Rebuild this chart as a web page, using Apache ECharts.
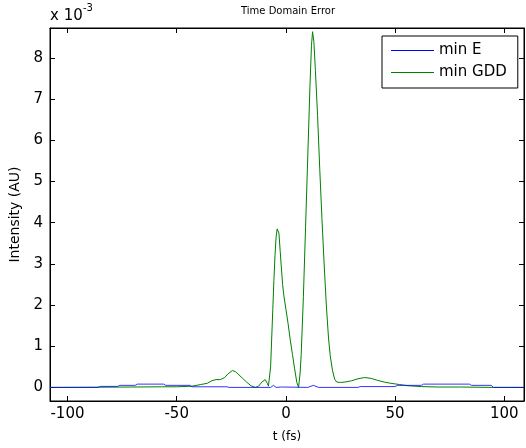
<!DOCTYPE html>
<html><head><meta charset="utf-8">
<script src="https://cdn.jsdelivr.net/npm/echarts@6/dist/echarts.min.js"></script>
<style>html,body{margin:0;padding:0;background:#fff}#c{width:526px;height:448px}</style>
</head><body><div id="c"></div>
<script>
// Tick labels
const xTicks = [-100, -50, 0, 50, 100];
const yTicks = [0, 1, 2, 3, 4, 5, 6, 7, 8];
const seriesNames = ['min E', 'min GDD'];

// min E (blue) : t (fs), intensity (x1e-3)
const tE = [-108, -86, -85, -77, -76, -69, -68, -56, -55, -44, -43, -27, -26, -7, -5.7, -4.5, -2, 10, 12.6, 15, 33, 34, 50, 51, 62, 63, 84, 85, 94, 95, 109];
const vE = [0, 0, 0.025, 0.025, 0.05, 0.05, 0.08, 0.08, 0.05, 0.05, 0.015, 0.015, 0, 0, 0.05, 0.0, 0.01, 0, 0.05, 0, 0, 0.02, 0.02, 0.05, 0.05, 0.08, 0.08, 0.05, 0.05, 0, 0];

// min GDD (green)
const tG = [-108, -86, -70, -57, -50, -43, -39, -36, -34, -32, -30, -28, -26.5, -24.5, -23, -22, -20, -18, -16, -14, -12.5, -11, -9.5, -8.5, -8, -7.5, -7, -6.5, -6, -5.5, -5, -4.5, -4, -3.7, -3.2, -2.6, -2, -1.5, -1, 0, 1, 2, 3, 4, 5, 5.8, 6.5, 7, 8, 9, 10, 11, 11.7, 12.2, 12.8, 13.5, 14.5, 15.5, 16.5, 17.5, 18.5, 19.5, 20.3, 21.3, 22.3, 23.3, 25, 27, 30, 33, 36, 39, 42, 45, 48, 52, 56, 62, 70, 80, 95, 109];
const vG = [0, 0.005, 0.01, 0.015, 0.015, 0.03, 0.07, 0.1, 0.16, 0.19, 0.19, 0.24, 0.33, 0.41, 0.38, 0.33, 0.23, 0.13, 0.04, 0.0, 0.03, 0.13, 0.19, 0.1, 0.03, 0.0, 0.5, 1.2, 1.9, 2.6, 3.2, 3.65, 3.85, 3.88, 3.75, 3.3, 2.85, 2.5, 2.25, 1.9, 1.55, 1.15, 0.8, 0.45, 0.12, 0.0, 0.35, 0.8, 2.2, 3.9, 5.6, 7.3, 8.3, 8.64, 8.4, 7.7, 6.6, 5.3, 4.1, 3.0, 2.0, 1.2, 0.77, 0.42, 0.2, 0.13, 0.12, 0.13, 0.16, 0.21, 0.24, 0.22, 0.17, 0.13, 0.1, 0.07, 0.04, 0.02, 0.01, 0.01, 0.0, 0];

const FF = 'DejaVu Sans';
const zip = (t, v) => t.map((x, i) => [x, v[i]]);
const chart = echarts.init(document.getElementById('c'), null, {renderer: 'canvas'});
const tickStyle = {color: '#000', width: 1};
chart.setOption({
  animation: false,
  backgroundColor: '#fff',
  title: {text: 'Time Domain Error', left: 241, top: 6, padding: 0, textStyle: {fontSize: 10, fontWeight: 'normal', color: '#000', fontFamily: FF}},
  grid: {left: 50, right: 2, top: 28, bottom: 46, show: true, borderColor: '#000', borderWidth: 1, backgroundColor: 'transparent'},
  legend: {
    data: seriesNames, orient: 'vertical', left: 382, top: 36, padding: [7, 11, 8, 9],
    icon: 'rect', itemWidth: 43, itemHeight: 1, itemGap: 7,
    borderColor: '#000', borderWidth: 1, backgroundColor: '#fff',
    textStyle: {fontSize: 15, fontFamily: FF, color: '#000', lineHeight: 15}
  },
  xAxis: [{
    type: 'value', min: -108, max: 109, position: 'bottom',
    axisLine: {show: true, onZero: false, lineStyle: tickStyle},
    axisTick: {show: true, inside: true, length: 5, customValues: xTicks, lineStyle: tickStyle},
    axisLabel: {customValues: xTicks, fontSize: 15, color: '#000', margin: 6, fontFamily: FF},
    splitLine: {show: false},
    name: 't (fs)', nameLocation: 'middle', nameGap: 30,
    nameTextStyle: {fontSize: 12, color: '#000', fontFamily: FF}
  }, {
    type: 'value', min: -108, max: 109, position: 'top',
    axisLine: {show: true, onZero: false, lineStyle: tickStyle},
    axisTick: {show: true, inside: true, length: 5, customValues: xTicks, lineStyle: tickStyle},
    axisLabel: {show: false}, splitLine: {show: false}
  }],
  yAxis: [{
    type: 'value', min: -0.33, max: 8.73, position: 'left',
    axisLine: {show: true, onZero: false, lineStyle: tickStyle},
    axisTick: {show: true, inside: true, length: 5, customValues: yTicks, lineStyle: tickStyle},
    axisLabel: {customValues: yTicks, fontSize: 15, color: '#000', margin: 7, fontFamily: FF},
    splitLine: {show: false},
    name: 'Intensity (AU)', nameLocation: 'middle', nameGap: 26,
    nameTextStyle: {fontSize: 14, color: '#000', fontFamily: FF}
  }, {
    type: 'value', min: -0.33, max: 8.73, position: 'right',
    axisLine: {show: true, onZero: false, lineStyle: tickStyle},
    axisTick: {show: true, inside: true, length: 5, customValues: yTicks, lineStyle: tickStyle},
    axisLabel: {show: false}, splitLine: {show: false}
  }],
  graphic: [
    {type: 'text', left: 50, top: 9, style: {text: 'x 10', fontSize: 15, fontFamily: FF, fill: '#000'}},
    {type: 'text', left: 83, top: 3, style: {text: '-3', fontSize: 10, fontFamily: FF, fill: '#000'}}
  ],
  series: [
    {name: seriesNames[0], type: 'line', data: zip(tE, vE), showSymbol: false, symbol: 'none', z: 3,
     color: '#0000ff', lineStyle: {width: 1, color: '#0000ff', opacity: 0.8}},
    {name: seriesNames[1], type: 'line', data: zip(tG, vG), showSymbol: false, symbol: 'none', z: 2,
     color: '#008000', lineStyle: {width: 1, color: '#008000'}}
  ]
});
</script>
</body></html>
